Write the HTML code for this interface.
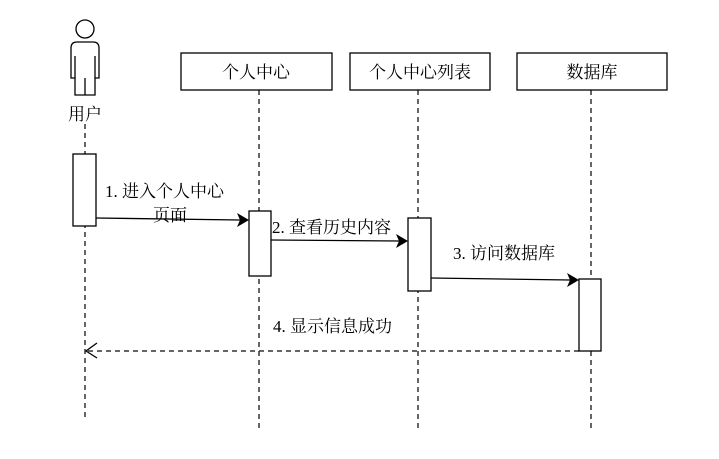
<!DOCTYPE html>
<html><head><meta charset="utf-8"><style>body{margin:0;background:#fff}</style></head><body>
<svg width="719" height="454" xmlns="http://www.w3.org/2000/svg" font-family="'Liberation Serif','Noto Serif CJK SC','Noto Sans CJK SC',serif" font-size="17">
<rect width="719" height="454" fill="#fff"/>
<g stroke="#000" fill="#fff" stroke-width="1.3">
<circle cx="85" cy="29" r="9"/>
<path d="M71,48 Q71,42 77,42 H93 Q99,42 99,48 V78 H95 V95 H75 V78 H71 Z"/>
<path d="M75,56 V78 M95,56 V78 M85,78 V95" fill="none"/>
</g>
<text x="85" y="120" text-anchor="middle" fill="#000">用户</text>
<g stroke="#333" stroke-width="1.5" stroke-dasharray="5,4" fill="none">
<line x1="85" y1="124" x2="85" y2="420"/>
<line x1="259" y1="90" x2="259" y2="430"/>
<line x1="418" y1="90" x2="418" y2="430"/>
<line x1="591" y1="90" x2="591" y2="430"/>
<line x1="579" y1="351" x2="86" y2="351"/>
</g>
<g stroke="#000" stroke-width="1.3" fill="#fff">
<rect x="181" y="53" width="151" height="37"/>
<rect x="350" y="53" width="140" height="37"/>
<rect x="517" y="53" width="150" height="37"/>
<rect x="73" y="154" width="23" height="72"/>
<rect x="249" y="211" width="22" height="65"/>
<rect x="408" y="218" width="23" height="73"/>
<rect x="579" y="279" width="22" height="72"/>
</g>
<text x="256" y="78" text-anchor="middle">个人中心</text>
<text x="420" y="78" text-anchor="middle">个人中心列表</text>
<text x="592" y="78" text-anchor="middle">数据库</text>
<g stroke="#000" stroke-width="1.3" fill="none">
<line x1="96" y1="218" x2="240" y2="220"/>
<line x1="271" y1="240" x2="399" y2="241"/>
<line x1="431" y1="278" x2="570" y2="280"/>
<path d="M97,343 L86,351 L97,358"/>
</g>
<g fill="#000">
<path d="M249,220 L237,213 L240,220 L237,227 Z"/>
<path d="M408,241 L396,234 L399,241 L396,248 Z"/>
<path d="M579,280 L567,273 L570,280 L567,287 Z"/>
</g>
<text x="105" y="197">1. 进入个人中心</text>
<text x="170" y="221" text-anchor="middle">页面</text>
<text x="272" y="233">2. 查看历史内容</text>
<text x="453" y="259">3. 访问数据库</text>
<text x="273" y="332">4. 显示信息成功</text>
</svg>
</body></html>
